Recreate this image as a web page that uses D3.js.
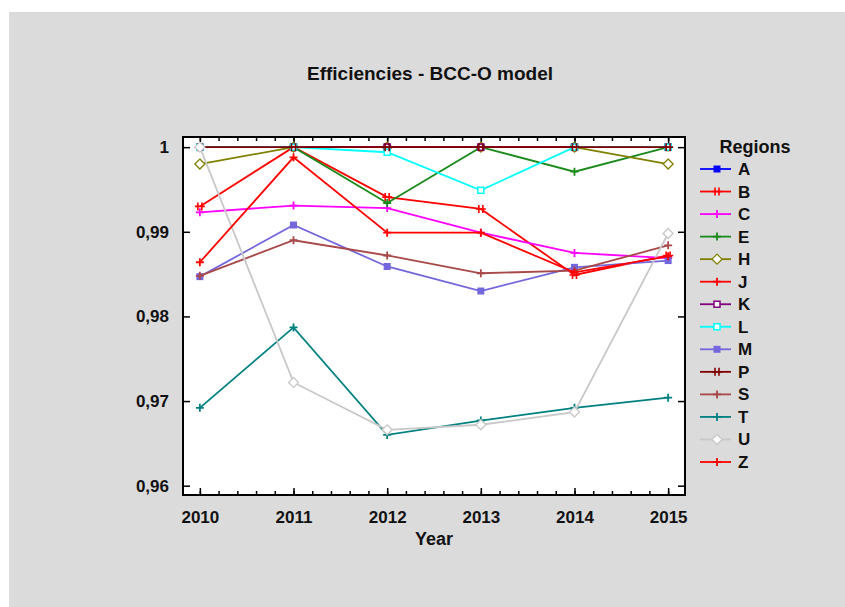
<!DOCTYPE html>
<html>
  <head>
    <meta charset="utf-8">
    <script src="https://cdn.jsdelivr.net/npm/d3@7"></script>
    <style>
      body { margin: 0; background: #ffffff; }
      text { font-family: Arial, "Liberation Sans", sans-serif; }
    </style>
  </head>
  <body>
    <svg width="845" height="607"></svg>
    <script>

      // Data
      var years = [2010, 2011, 2012, 2013, 2014, 2015];
      var yTicks = [0.96, 0.97, 0.98, 0.99, 1];

      var regions = ["A", "B", "C", "E", "H", "J", "K", "L", "M", "P", "S", "T", "U", "Z"];
      var colors  = ["#0000ff", "#ff0000", "#ff00ff", "#1a8a1a", "#808000", "#ff0000", "#800080",
                     "#00ffff", "#7466dc", "#800000", "#a84848", "#008080", "#c8c8c8", "#ff0000"];
      var markers = ["fsquare", "dcross", "plus", "plus", "diamond", "plus", "square",
                     "square", "fsquare", "dcross", "plus", "plus", "diamond", "plus"];

      var valA = [1, 1, 1, 1, 1, 1];
      var valB = [0.9930, 1.0000, 0.9941, 0.9927, 0.9849, 0.9872];
      var valC = [0.9923, 0.9931, 0.9928, 0.9899, 0.9875, 0.9869];
      var valE = [1.0000, 1.0000, 0.9934, 1.0000, 0.9971, 1.0000];
      var valH = [0.9980, 1.0000, 1.0000, 1.0000, 1.0000, 0.9980];
      var valJ = [1, 1, 1, 1, 1, 1];
      var valK = [1, 1, 1, 1, 1, 1];
      var valL = [1.0000, 1.0000, 0.9994, 0.9949, 1.0000, 1.0000];
      var valM = [0.9847, 0.9908, 0.9859, 0.9830, 0.9858, 0.9866];
      var valP = [1, 1, 1, 1, 1, 1];
      var valS = [0.9848, 0.9890, 0.9872, 0.9851, 0.9854, 0.9884];
      var valT = [0.9692, 0.9787, 0.9660, 0.9677, 0.9692, 0.9704];
      var valU = [1.0000, 0.9722, 0.9666, 0.9672, 0.9687, 0.9898];
      var valZ = [0.9864, 0.9988, 0.9899, 0.9899, 0.9852, 0.9871];

      var values = [valA, valB, valC, valE, valH, valJ, valK, valL, valM, valP, valS, valT, valU, valZ];

      var svg = d3.select("svg");

      // grey panel
      svg.append("rect")
        .attr("x", 9).attr("y", 12)
        .attr("width", 836).attr("height", 595)
        .attr("fill", "#dbdbdb");

      var pLeft = 183, pRight = 685, pTop = 137, pBottom = 495;

      var xScale = d3.scaleLinear().domain([2009.82, 2015.18]).range([pLeft, pRight]);
      var yScale = d3.scaleLinear().domain([0.9589, 1.0012]).range([pBottom, pTop]);

      // plot area
      svg.append("rect")
        .attr("x", pLeft).attr("y", pTop)
        .attr("width", pRight - pLeft).attr("height", pBottom - pTop)
        .attr("fill", "#ffffff");

      // title
      svg.append("text")
        .attr("x", 430).attr("y", 80)
        .attr("text-anchor", "middle")
        .style("font-size", "19px")
        .style("font-weight", "bold")
        .attr("fill", "#111")
        .text("Efficiencies - BCC-O model");

      // minor ticks every 0.2 year
      var minor = d3.range(0, 26).map(function(i) { return 2010 + i * 0.2; });

      // x axis ticks, bottom and top, pointing inward
      svg.append("g")
        .attr("transform", "translate(0," + pBottom + ")")
        .call(d3.axisBottom(xScale).tickValues(minor).tickSize(-4).tickFormat(""))
        .call(function(g) { g.select(".domain").remove(); });
      svg.append("g")
        .attr("transform", "translate(0," + pTop + ")")
        .call(d3.axisTop(xScale).tickValues(minor).tickSize(-4).tickFormat(""))
        .call(function(g) { g.select(".domain").remove(); });
      svg.append("g")
        .attr("transform", "translate(0," + pBottom + ")")
        .call(d3.axisBottom(xScale).tickValues(years).tickSize(-7).tickPadding(16).tickFormat(d3.format("d")))
        .call(function(g) { g.select(".domain").remove(); });
      svg.append("g")
        .attr("transform", "translate(0," + pTop + ")")
        .call(d3.axisTop(xScale).tickValues(years).tickSize(-7).tickFormat(""))
        .call(function(g) { g.select(".domain").remove(); });

      // y axis ticks, left and right
      var fmtY = function(d) { return d === 1 ? "1" : d3.format(".2f")(d).replace(".", ","); };
      svg.append("g")
        .attr("transform", "translate(" + pLeft + ",0)")
        .call(d3.axisLeft(yScale).tickValues(yTicks).tickSize(-7).tickPadding(14).tickFormat(fmtY))
        .call(function(g) { g.select(".domain").remove(); });
      svg.append("g")
        .attr("transform", "translate(" + pRight + ",0)")
        .call(d3.axisRight(yScale).tickValues(yTicks).tickSize(-7).tickFormat(""))
        .call(function(g) { g.select(".domain").remove(); });

      svg.selectAll(".tick line").attr("stroke", "#000").attr("stroke-width", 1.5);
      svg.selectAll(".tick text")
        .style("font-size", "17px")
        .style("font-weight", "bold")
        .attr("fill", "#111");

      // frame
      svg.append("rect")
        .attr("x", pLeft).attr("y", pTop)
        .attr("width", pRight - pLeft).attr("height", pBottom - pTop)
        .attr("fill", "none").attr("stroke", "#000").attr("stroke-width", 2);

      svg.append("text")
        .attr("x", 434).attr("y", 545)
        .attr("text-anchor", "middle")
        .style("font-size", "18px")
        .style("font-weight", "bold")
        .attr("fill", "#111")
        .text("Year");

      function drawMarker(g, type, color, x, y) {
        var s = 3.5;
        if (type === "fsquare") {
          g.append("rect").attr("x", x - s).attr("y", y - s).attr("width", 2 * s).attr("height", 2 * s)
            .attr("fill", color);
        } else if (type === "square") {
          g.append("rect").attr("x", x - 3).attr("y", y - 3).attr("width", 6).attr("height", 6)
            .attr("fill", "#fff").attr("stroke", color).attr("stroke-width", 1.5);
        } else if (type === "diamond") {
          g.append("path").attr("d", "M" + x + "," + (y - 5) + "L" + (x + 5) + "," + y + "L" + x + "," + (y + 5) + "L" + (x - 5) + "," + y + "Z")
            .attr("fill", "#fff").attr("stroke", color).attr("stroke-width", 1.3);
        } else if (type === "plus") {
          g.append("path").attr("d", "M" + (x - 4) + "," + y + "H" + (x + 4) + "M" + x + "," + (y - 4) + "V" + (y + 4))
            .attr("stroke", color).attr("stroke-width", 1.8);
        } else if (type === "dcross") {
          g.append("path").attr("d", "M" + (x - 5) + "," + y + "H" + (x + 5) + "M" + (x - 2) + "," + (y - 4) + "V" + (y + 4) + "M" + (x + 2) + "," + (y - 4) + "V" + (y + 4))
            .attr("stroke", color).attr("stroke-width", 1.6);
        }
      }

      // series lines and markers
      var line = d3.line()
        .x(function(d, i) { return xScale(years[i]); })
        .y(function(d) { return yScale(d); });

      var series = svg.append("g");
      regions.forEach(function(r, k) {
        var g = series.append("g");
        g.append("path")
          .attr("d", line(values[k]))
          .attr("fill", "none")
          .attr("stroke", colors[k])
          .attr("stroke-width", 1.8);
        values[k].forEach(function(v, i) {
          drawMarker(g, markers[k], colors[k], xScale(years[i]), yScale(v));
        });
      });

      // legend
      svg.append("text")
        .attr("x", 755).attr("y", 153)
        .attr("text-anchor", "middle")
        .style("font-size", "18px")
        .style("font-weight", "bold")
        .attr("fill", "#111")
        .text("Regions");

      var legY = d3.scalePoint().domain(regions).range([169, 462]);
      regions.forEach(function(r, k) {
        var g = svg.append("g");
        var y = legY(r);
        g.append("line")
          .attr("x1", 700).attr("x2", 731).attr("y1", y).attr("y2", y)
          .attr("stroke", colors[k]).attr("stroke-width", 1.8);
        drawMarker(g, markers[k], colors[k], 717, y);
        g.append("text")
          .attr("x", 738).attr("y", y + 6)
          .style("font-size", "17px")
          .style("font-weight", "bold")
          .attr("fill", "#111")
          .text(r);
      });

    </script>
  </body>
</html>
